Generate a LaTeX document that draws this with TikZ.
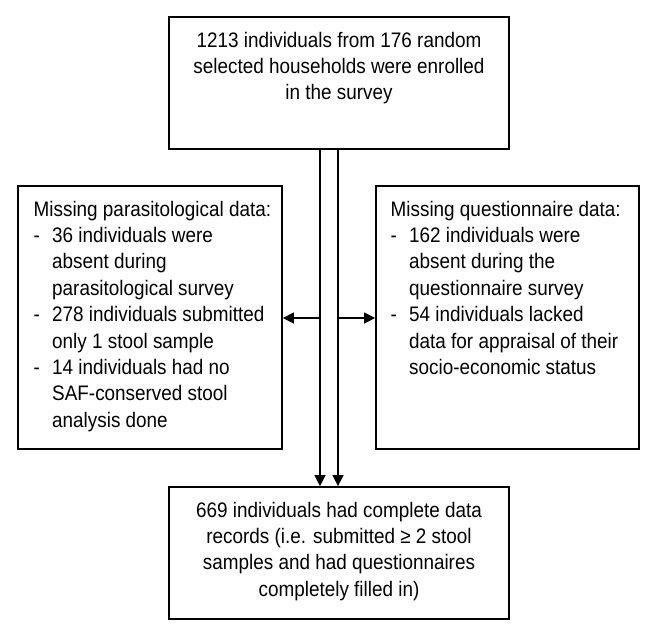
\documentclass[tikz,border=0pt]{standalone}
\usepackage{fontspec}
\setmainfont{Liberation Sans}[FakeStretch=0.9]
\usetikzlibrary{arrows.meta}
\newcommand{\diagfont}{\fontsize{21}{26.4}\selectfont}
\begin{document}
\begin{tikzpicture}[x=1pt,y=-1pt,
  box/.style={draw=black,line width=1.8pt,rectangle,inner sep=0pt},
  txt/.style={inner sep=0pt,font=\diagfont},
  conn/.style={draw=black,line width=1.5pt},
  arr/.style={conn,-{Triangle[length=11pt,width=11pt]}}]
\useasboundingbox (0,0) rectangle (656,641);
\fill[white] (0,0) rectangle (656,641);
% boxes
\node[box,minimum width=340pt,minimum height=132pt] (top) at (339,83) {};
\node[box,minimum width=264pt,minimum height=263pt] (left) at (150,317.5) {};
\node[box,minimum width=263pt,minimum height=263pt] (right) at (507.5,317.5) {};
\node[box,minimum width=340pt,minimum height=132pt] (bottom) at (339,553) {};
% texts
\node[txt,anchor=north] (toptxt) at (339,28.5) {\begin{tabular}{@{}c@{}}1213 individuals from 176 random\\selected households were enrolled\\in the survey\end{tabular}};
\node[txt,anchor=north] (bottxt) at (339,498.5) {\begin{tabular}{@{}c@{}}669 individuals had complete data\\records (i.e. submitted ≥ 2 stool\\samples and had questionnaires\\completely filled in)\end{tabular}};
\node[txt,anchor=north west] (lefttxt) at (33.5,197.5) {\begin{tabular}{@{}p{18.5pt}@{}l@{}}
\multicolumn{2}{@{}l@{}}{Missing parasitological data:}\\
- & 36 individuals were\\
  & absent during\\
  & parasitological survey\\
- & 278 individuals submitted\\
  & only 1 stool sample\\
- & 14 individuals had no\\
  & SAF-conserved stool\\
  & analysis done
\end{tabular}};
\node[txt,anchor=north west] (righttxt) at (390.5,197.5) {\begin{tabular}{@{}p{18.5pt}@{}l@{}}
\multicolumn{2}{@{}l@{}}{Missing questionnaire data:}\\
- & 162 individuals were\\
  & absent during the\\
  & questionnaire survey\\
- & 54 individuals lacked\\
  & data for appraisal of their\\
  & socio-economic status
\end{tabular}};
% connectors
\coordinate (s1) at (320,0);
\coordinate (s2) at (338,0);
\coordinate (j1) at (320,318);
\coordinate (j2) at (338,318);
\draw[arr] (s1 |- top.south) -- (s1 |- bottom.north);
\draw[arr] (s2 |- top.south) -- (s2 |- bottom.north);
\draw[arr] (j1) -- (j1 -| left.east);
\draw[arr] (j2) -- (j2 -| right.west);
\end{tikzpicture}
\end{document}
